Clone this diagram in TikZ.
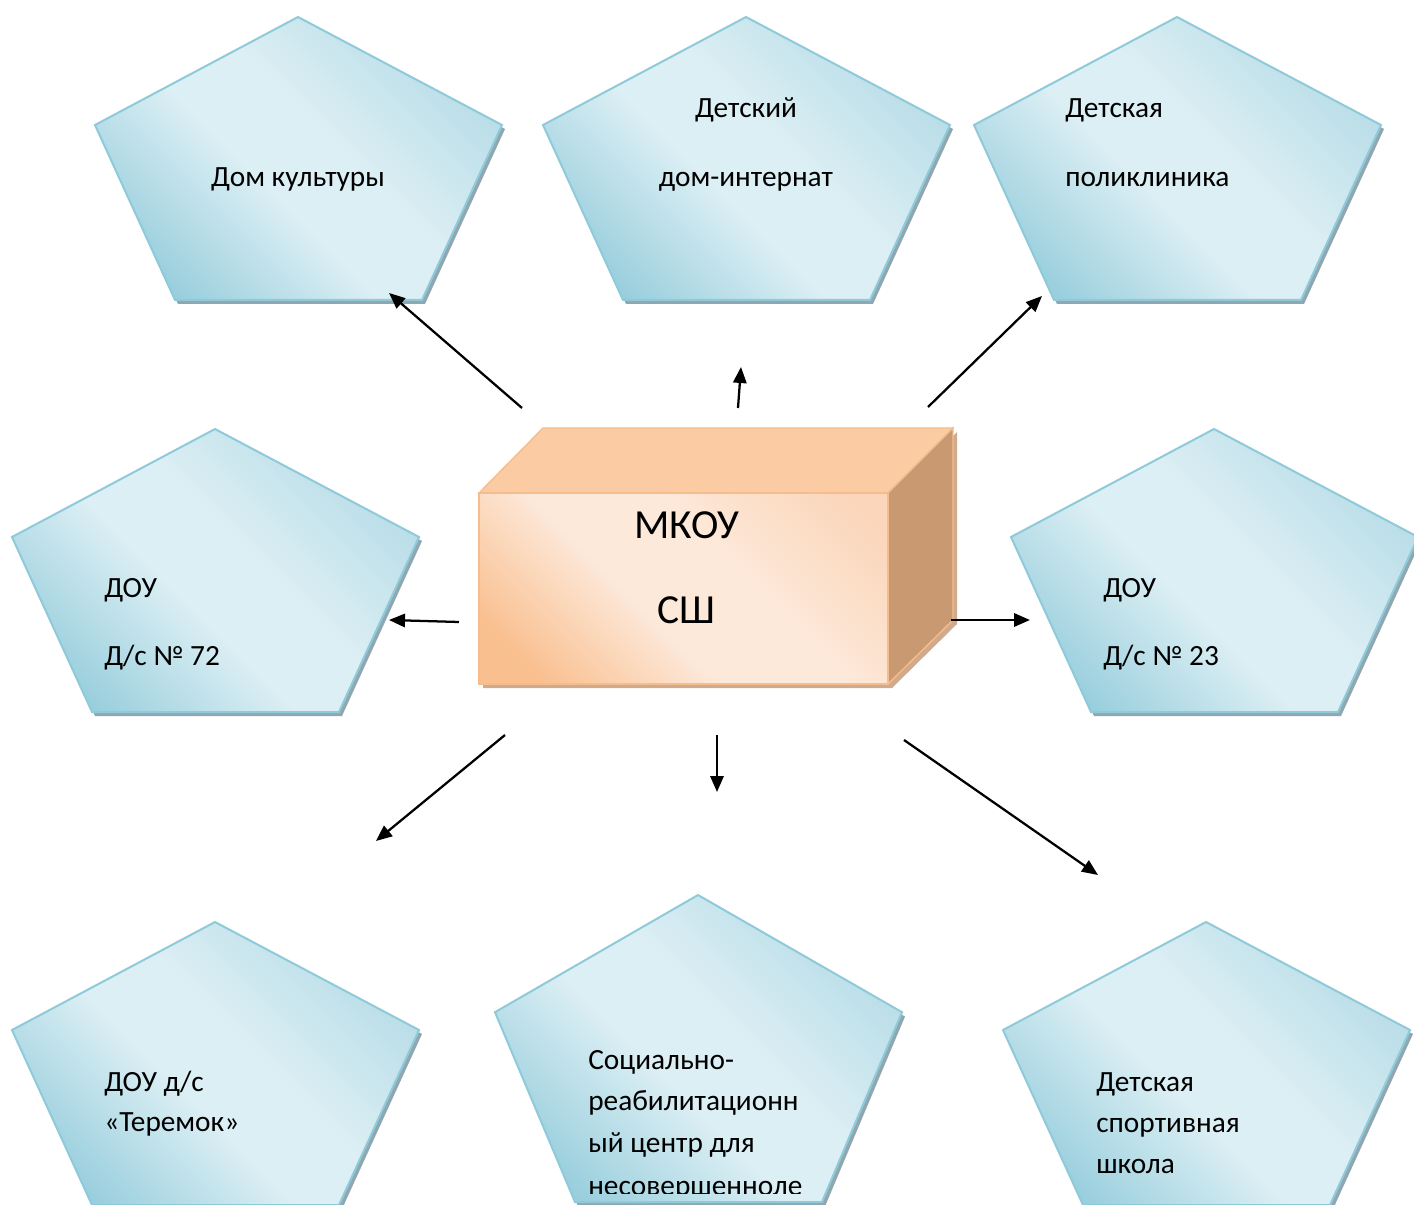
\documentclass[tikz,border=0pt]{standalone}
\usepackage{fontspec}
\setmainfont{Carlito}
\usetikzlibrary{arrows.meta}
\definecolor{pdark}{HTML}{98CEDD}
\definecolor{plight}{HTML}{DCEFF4}
\definecolor{pmid}{HTML}{B5DBE6}
\definecolor{pborder}{HTML}{8FCADA}
\definecolor{pshadow}{HTML}{8FA7B0}
\definecolor{bdark}{HTML}{F9BF8F}
\definecolor{blight}{HTML}{FDE9DA}
\definecolor{bmid}{HTML}{FBD6BA}
\definecolor{btop}{HTML}{FBCBA3}
\definecolor{bside}{HTML}{C99A71}
\definecolor{bborder}{HTML}{F7BC8C}
\definecolor{bshadow}{HTML}{CFAA8C}
\pgfdeclarehorizontalshading{pentsh}{100bp}{color(0bp)=(pdark); color(23bp)=(pdark); color(44bp)=(plight); color(55bp)=(plight); color(77bp)=(pmid); color(100bp)=(pmid)}
\pgfdeclarehorizontalshading{boxsh}{100bp}{color(0bp)=(bdark); color(22bp)=(bdark); color(43bp)=(blight); color(58bp)=(blight); color(80bp)=(bmid); color(100bp)=(bmid)}
\tikzset{
  pentbody/.style={shading=pentsh, shading angle=45, draw=pborder, line width=1.5pt},
  pentshadow/.style={fill=pshadow},
  lbl/.style={font=\fontsize{22}{26}\selectfont, inner sep=0pt, anchor=base west},
  lblc/.style={font=\fontsize{22}{26}\selectfont, inner sep=0pt, anchor=base},
  biglbl/.style={font=\fontsize{31}{36}\selectfont, inner sep=0pt, anchor=base},
  arr/.style={-{Triangle[length=12pt,width=10pt]}, line width=1.7pt, black},
  boxfront/.style={shading=boxsh, shading angle=45, draw=bborder, line width=1pt},
}
\newcommand\pentshape[4]{%
  \begin{scope}[shift={(#2,#3)}, yscale=#4]
    \fill[pentshadow] (3,4) -- (207,112) -- (127,287) -- (-120,287) -- (-200,112) -- cycle;
    \path[pentbody] (0,0) coordinate (#1) -- (204,108) -- (124,283) -- (-123,283) -- (-203,108) -- cycle;
  \end{scope}}
\begin{document}
\begin{tikzpicture}[x=0.75pt, y=-0.75pt]
\useasboundingbox (0,0) rectangle (1414,1205);
\clip (0,0) rectangle (1414,1205);
\fill[white] (0,0) rectangle (1414,1205);
% pentagons
\pentshape{p1}{298}{17}{1}
\pentshape{p2}{746}{17}{1}
\pentshape{p3}{1177}{17}{1}
\pentshape{p4}{215}{429}{1}
\pentshape{p5}{1214}{429}{1}
\pentshape{p6}{215}{922}{1}
\pentshape{p7}{698}{895}{1.085}
\pentshape{p8}{1206}{922}{1}
% central box
\fill[bshadow] (483,497) -- (892,497) -- (957,432) -- (957,624) -- (892,688) -- (483,688) -- cycle;
\fill[btop, draw=bborder, line width=1pt] (479,493) -- (543,428) -- (953,428) -- (888,493) -- cycle;
\fill[bside, draw=bborder, line width=1pt] (888,493) -- (953,428) -- (953,620) -- (888,684) -- cycle;
\path[boxfront] (479,493) rectangle (888,684);
\node[biglbl] (t0a) at (687,538) {МКОУ};
\node[biglbl] (t0b) at (686,623) {СШ};
% labels
\node[lblc] (t1) at (298,187) {Дом культуры};
\node[lblc] (t2a) at (746,118) {Детский};
\node[lblc] (t2b) at (746,187) {дом-интернат};
\node[lbl] (t3a) at (1065,118) {Детская};
\node[lbl] (t3b) at (1065,187) {поликлиника};
\node[lbl] (t4a) at (104,597) {ДОУ};
\node[lbl] (t4b) at (104,665) {Д/с № 72};
\node[lbl] (t5a) at (1103,597) {ДОУ};
\node[lbl] (t5b) at (1103,665) {Д/с № 23};
\node[lbl] (t6a) at (104,1091) {ДОУ д/с};
\node[lbl] (t6b) at (104,1131) {«Теремок»};
\begin{scope}
\clip (480,880) rectangle (920,1193);
\node[lbl] (t7a) at (588,1069) {Социально-};
\node[lbl] (t7b) at (588,1110) {реабилитационн};
\node[lbl] (t7c) at (588,1152) {ый центр для};
\node[lbl] (t7d) at (588,1195) {несовершенноле};
\end{scope}
\node[lbl] (t8a) at (1096,1091) {Детская};
\node[lbl] (t8b) at (1096,1132) {спортивная};
\node[lbl] (t8c) at (1096,1173) {школа};
% arrows
\coordinate (a1s) at (522,408); \coordinate (a1e) at (389,293);
\coordinate (a2s) at (738,408); \coordinate (a2e) at (741,367);
\coordinate (a3s) at (928,407); \coordinate (a3e) at (1042,296);
\coordinate (a4s) at (459,622); \coordinate (a4e) at (389,620);
\coordinate (a5s) at (951,620); \coordinate (a5e) at (1030,620);
\coordinate (a6s) at (505,735); \coordinate (a6e) at (376,841);
\coordinate (a7s) at (717,735); \coordinate (a7e) at (717,792);
\coordinate (a8s) at (904,740); \coordinate (a8e) at (1098,875);
\foreach \i in {1,...,8} \draw[arr] (a\i s) -- (a\i e);
\end{tikzpicture}
\end{document}
